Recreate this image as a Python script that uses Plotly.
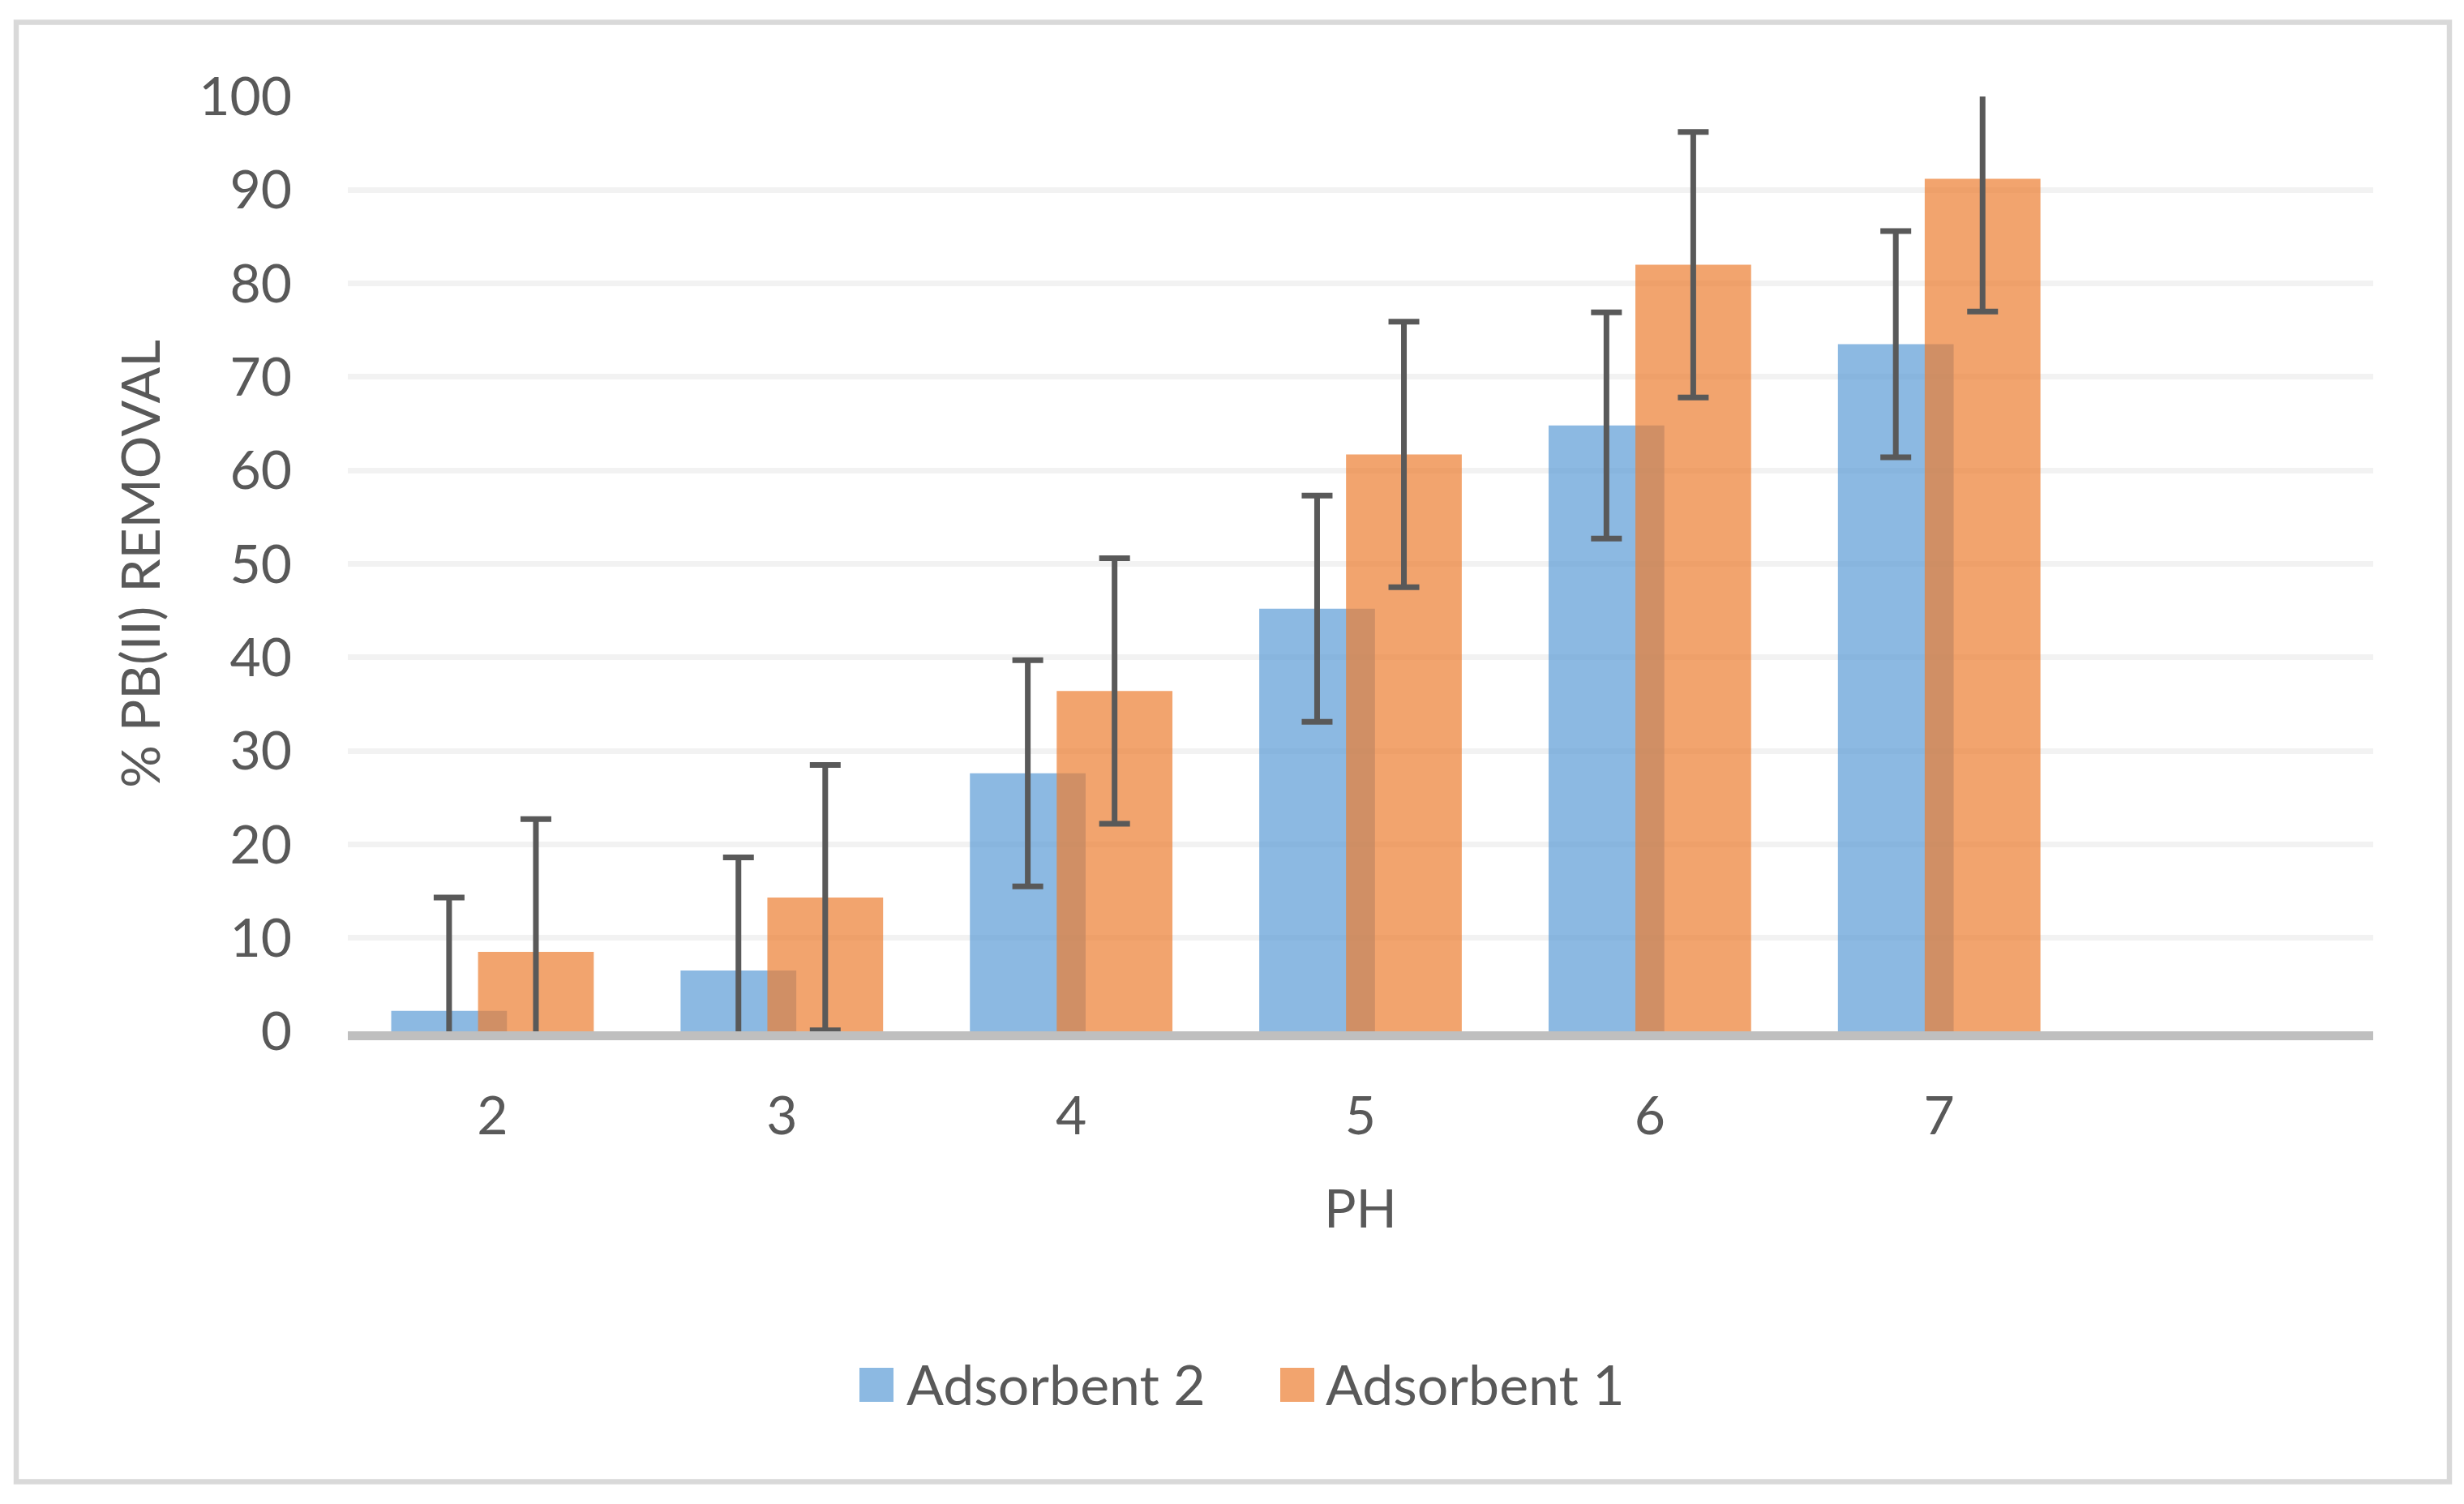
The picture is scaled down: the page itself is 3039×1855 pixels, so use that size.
import plotly.graph_objects as go

# ---- data ----
ph_values = [2, 3, 4, 5, 6, 7]
ph_labels = ["2", "3", "4", "5", "6", "7"]
adsorbent2 = [2.2, 6.5, 27.6, 45.2, 64.8, 73.5]
adsorbent2_err = [12.1, 12.1, 12.1, 12.1, 12.1, 12.1]
adsorbent1 = [8.5, 14.3, 36.4, 61.7, 82.0, 91.2]
adsorbent1_err = [14.2, 14.2, 14.2, 14.2, 14.2, 14.2]
y_ticks = [0, 10, 20, 30, 40, 50, 60, 70, 80, 90, 100]
series_names = ["Adsorbent 2", "Adsorbent 1"]

# ---- style ----
W, H = 3039, 1855
ML, MR, MT, MB = 429, 112, 119, 583
PW, PH = W - ML - MR, H - MT - MB
FONT = "Lato"
TXT = "#595959"
FS = 66
BLUE = "rgba(91,155,213,0.7)"
ORANGE = "rgba(237,125,49,0.7)"


def px_x(px):
    return (px - ML) / PW


def px_y(py):
    return (H - MB - py) / PH


fig = go.Figure()
err_style = dict(type="data", color=TXT, thickness=7, width=19)
fig.add_trace(go.Bar(
    x=ph_values, y=adsorbent2, name=series_names[0],
    marker=dict(color=BLUE, line=dict(width=0)),
    width=0.4, offset=-0.35,
    error_y=dict(array=adsorbent2_err, **err_style),
))
fig.add_trace(go.Bar(
    x=ph_values, y=adsorbent1, name=series_names[1],
    marker=dict(color=ORANGE, line=dict(width=0)),
    width=0.4, offset=-0.05,
    error_y=dict(array=adsorbent1_err, **err_style),
))

shapes = [
    # outer chart border
    dict(type="rect", xref="paper", yref="paper",
         x0=px_x(20), x1=px_x(3021), y0=px_y(1827.5), y1=px_y(27.5),
         line=dict(color="#D9D9D9", width=6.5), fillcolor="rgba(0,0,0,0)", layer="below"),
    # legend swatches
    dict(type="rect", xref="paper", yref="paper",
         x0=px_x(1060), x1=px_x(1102), y0=px_y(1729), y1=px_y(1687),
         line=dict(width=0), fillcolor=BLUE),
    dict(type="rect", xref="paper", yref="paper",
         x0=px_x(1579), x1=px_x(1621), y0=px_y(1729), y1=px_y(1687),
         line=dict(width=0), fillcolor=ORANGE),
]
annotations = [
    dict(text=series_names[0], xref="paper", yref="paper", x=px_x(1116), y=px_y(1706),
         xanchor="left", yanchor="middle", showarrow=False,
         font=dict(family=FONT, size=68, color=TXT)),
    dict(text=series_names[1], xref="paper", yref="paper", x=px_x(1633), y=px_y(1706),
         xanchor="left", yanchor="middle", showarrow=False,
         font=dict(family=FONT, size=68, color=TXT)),
]

fig.update_layout(
    width=W, height=H,
    margin=dict(l=ML, r=MR, t=MT, b=MB, pad=0),
    paper_bgcolor="white", plot_bgcolor="white",
    barmode="overlay",
    showlegend=False,
    font=dict(family=FONT, size=FS, color=TXT),
    shapes=shapes,
    annotations=annotations,
    xaxis=dict(
        range=[1.5, 8.5], tickmode="array", tickvals=ph_values, ticktext=ph_labels,
        showgrid=False, zeroline=False, ticks="",
        showline=True, linecolor="#BFBFBF", linewidth=11,
        tickfont=dict(family=FONT, size=FS, color=TXT),
        ticklabelstandoff=37,
        title=dict(text="PH", font=dict(family=FONT, size=FS, color=TXT), standoff=60),
    ),
    yaxis=dict(
        range=[0, 100], tickmode="array", tickvals=y_ticks,
        showgrid=True, gridcolor="#F2F2F2", gridwidth=7,
        zeroline=False, showline=False, ticks="",
        tickfont=dict(family=FONT, size=FS, color=TXT),
        ticklabelstandoff=68,
        title=dict(text="% PB(II) REMOVAL", font=dict(family=FONT, size=FS, color=TXT), standoff=26),
    ),
)

fig.write_html("out.html", config={"displayModeBar": False},
               post_script="document.body.style.margin='0px';")
